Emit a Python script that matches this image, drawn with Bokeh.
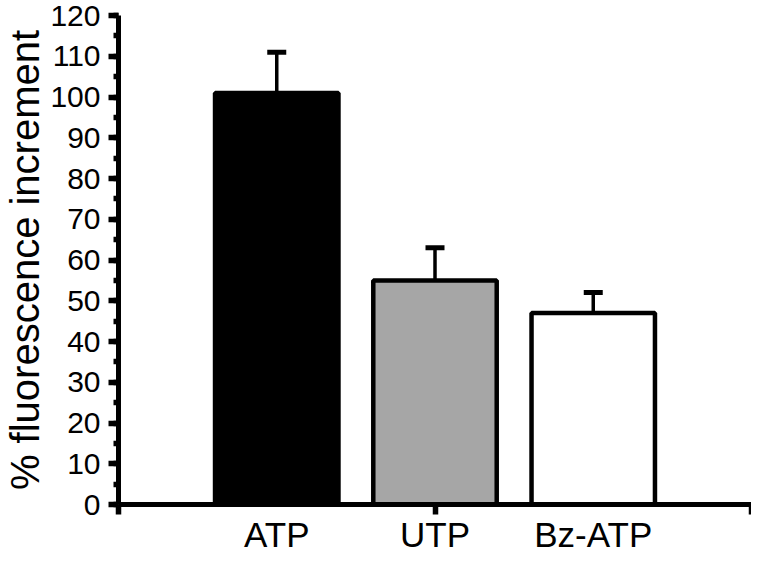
from bokeh.plotting import figure
from bokeh.models import (ColumnDataSource, Range1d, SingleIntervalTicker, FixedTicker,
                          Whisker, TeeHead)
from bokeh.embed import file_html
from bokeh.resources import INLINE

# ---- data ----
categories = ["ATP", "UTP", "Bz-ATP"]
values = [101, 55, 47]          # % fluorescence increment
errors = [10, 8, 5]             # upper error (SEM)
bar_colors = ["#000000", "#a6a6a6", "#ffffff"]
y_ticks_interval = 10

positions = [i + 1 for i in range(len(categories))]
uppers = [v + e for v, e in zip(values, errors)]

src = ColumnDataSource(dict(x=positions, top=values, upper=uppers,
                            color=bar_colors, cat=categories))

FONT = "Liberation Sans"

p = figure(width=751, height=556, output_backend="svg", toolbar_location=None,
           x_range=Range1d(0, 4), y_range=Range1d(0, 120),
           min_border_left=113, min_border_right=0, min_border_top=15,
           min_border_bottom=10)
p.outline_line_color = None
p.xgrid.visible = False
p.ygrid.visible = False
p.background_fill_color = "white"
p.border_fill_color = "white"

p.vbar(x="x", top="top", width=0.78, bottom=0, source=src,
       fill_color="color", line_color="black", line_width=4.5)

w = Whisker(base="x", upper="upper", lower="top", source=src,
            line_color="black", line_width=3.5,
            upper_head=TeeHead(size=19, line_width=5, line_color="black"),
            lower_head=None, level="overlay")
p.add_layout(w)

# y axis
ya = p.yaxis[0]
ya.ticker = SingleIntervalTicker(interval=y_ticks_interval, num_minor_ticks=2)
ya.axis_line_width = 5
ya.axis_line_color = "black"
ya.major_tick_line_width = 5.5
ya.major_tick_out = 10
ya.major_tick_in = 0
ya.minor_tick_line_width = 5.5
ya.minor_tick_out = 5
ya.minor_tick_in = 0
ya.major_label_text_font = FONT
ya.major_label_text_font_size = "30px"
ya.major_label_text_color = "black"
ya.major_label_standoff = 8
ya.axis_label = "% fluorescence increment"
ya.axis_label_text_font = FONT
ya.axis_label_text_font_size = "40px"
ya.axis_label_text_font_style = "normal"
ya.axis_label_text_color = "black"
ya.axis_label_standoff = 0

# x axis: category names at bar centres, tick marks at 0, 2, 4 as in the original
xa = p.xaxis[0]
xa.ticker = FixedTicker(ticks=positions, minor_ticks=[0, 2, 4])
xa.major_label_overrides = {pos: cat for pos, cat in zip(positions, categories)}
xa.axis_line_width = 5
xa.axis_line_color = "black"
xa.major_tick_line_color = None
xa.major_tick_out = 10
xa.major_tick_in = 0
xa.minor_tick_line_width = 5.5
xa.minor_tick_line_color = "black"
xa.minor_tick_out = 10
xa.minor_tick_in = 0
xa.major_label_text_font = FONT
xa.major_label_text_font_size = "35px"
xa.major_label_text_line_height = 0.9
xa.major_label_text_color = "black"
xa.major_label_standoff = 0

open("out.html", "w").write(file_html(p, INLINE))
